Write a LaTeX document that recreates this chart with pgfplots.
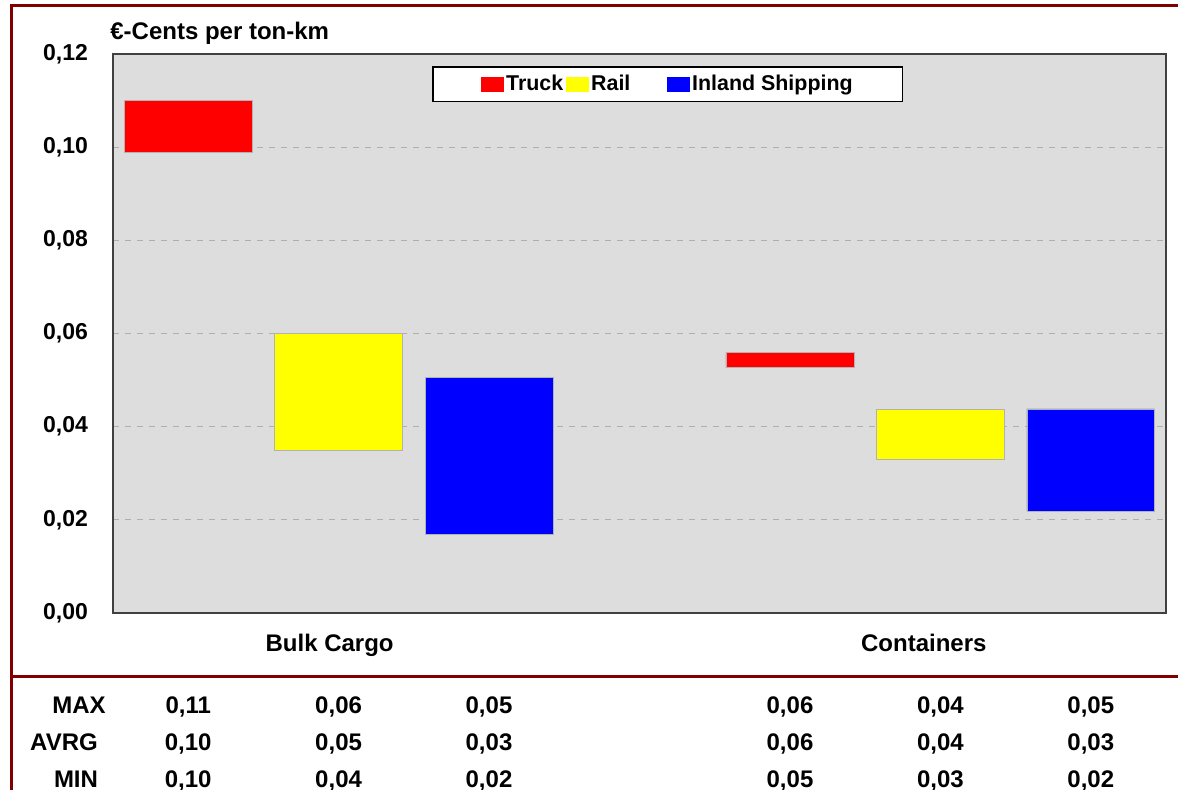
\documentclass[border=0pt]{standalone}
\usepackage{fontspec}
\setmainfont{Liberation Sans}
\usepackage{pgfplots}
\pgfplotsset{compat=1.18}
\usepackage{pgfplotstable}
\definecolor{plotbg}{RGB}{221,221,221}
\definecolor{framered}{RGB}{128,0,0}
\definecolor{gridc}{RGB}{175,175,175}
\definecolor{truckc}{RGB}{255,0,0}
\definecolor{railc}{RGB}{255,255,0}
\definecolor{shipc}{RGB}{0,0,255}

% x position, min, max, series (1 truck, 2 rail, 3 inland shipping)
\pgfplotstableread{
x lo hi s
0 0.0990 0.1100 1
1 0.0350 0.0601 2
2 0.0170 0.0506 3
4 0.0527 0.0559 1
5 0.0330 0.0438 2
6 0.0219 0.0438 3
}\bars

\newcommand{\tf}{\fontsize{12}{14}\selectfont\bfseries}
\newcommand{\lf}{\fontsize{10.7}{12}\selectfont\bfseries}
\begin{document}
\begin{tikzpicture}
\path[use as bounding box] (-56.5pt,-88pt) rectangle (532.5pt,306.5pt);
\begin{axis}[
  at={(0,0)}, anchor=south west,
  scale only axis, width=526.5pt, height=279.5pt,
  xmin=-0.5, xmax=6.5, ymin=0, ymax=0.12,
  ybar stacked, bar width=0.85,
  axis background/.style={fill=plotbg},
  axis line style={black!75, line width=0.8pt},
  ytick={0,0.02,0.04,0.06,0.08,0.1,0.12},
  yticklabels={{0,00},{0,02},{0,04},{0,06},{0,08},{0,10},{0,12}},
  ymajorgrids, grid style={gridc, dashed, line width=0.4pt},
  xtick={0.94,4.89}, xticklabels={Bulk Cargo,Containers},
  major tick length=0pt,
  xticklabel style={font=\tf, anchor=base, yshift=-19pt},
  yticklabel style={xshift=-9pt, font=\fontsize{11.5}{13}\selectfont\bfseries},
  legend columns=3,
  legend style={at={(0.527,0.946)}, anchor=center, draw=black, line width=0.8pt,
    fill=white, font=\lf, inner xsep=24pt, inner ysep=3pt,
    nodes={inner sep=1pt}},
  legend image code/.code={\fill[#1,draw=none] (0pt,-3.75pt) rectangle (11.5pt,3.75pt);},
  clip=false,
]
\addplot[draw=none, fill=none, forget plot] table[x=x, y=lo]{\bars};
\addplot[fill=truckc, draw=black!30, line width=0.3pt] table[x=x, y expr={\thisrow{s}==1 ? \thisrow{hi}-\thisrow{lo} : 0}]{\bars};
\addlegendentry{\makebox[29pt][l]{Truck}}
\addplot[fill=railc, draw=black!30, line width=0.3pt] table[x=x, y expr={\thisrow{s}==2 ? \thisrow{hi}-\thisrow{lo} : 0}]{\bars};
\addlegendentry{\makebox[37pt][l]{Rail}}
\addplot[fill=shipc, draw=black!30, line width=0.3pt] table[x=x, y expr={\thisrow{s}==3 ? \thisrow{hi}-\thisrow{lo} : 0}]{\bars};
\addlegendentry{Inland Shipping}
\end{axis}
\node[anchor=base west, font=\tf, inner sep=0pt] at (-1.5pt,287pt) {€-Cents per ton-km};
% frame
\draw[framered, line width=1.5pt] (-50.5pt,-90pt) -- (-50.5pt,304pt) -- (534pt,304pt);
\draw[framered, line width=1.5pt] (-51.5pt,-31.5pt) -- (534pt,-31.5pt);
% table below
\begin{scope}[every node/.style={anchor=base, font=\tf, inner sep=0pt}]
\node at (-17pt,-50pt) {MAX};
\node at (-24.5pt,-68.5pt) {AVRG};
\node at (-18.5pt,-87pt) {MIN};
\node at (37.6pt,-50pt) {0,11};  \node at (37.6pt,-68.5pt) {0,10};  \node at (37.6pt,-87pt) {0,10};
\node at (112.8pt,-50pt) {0,06}; \node at (112.8pt,-68.5pt) {0,05}; \node at (112.8pt,-87pt) {0,04};
\node at (188.0pt,-50pt) {0,05}; \node at (188.0pt,-68.5pt) {0,03}; \node at (188.0pt,-87pt) {0,02};
\node at (338.5pt,-50pt) {0,06}; \node at (338.5pt,-68.5pt) {0,06}; \node at (338.5pt,-87pt) {0,05};
\node at (413.7pt,-50pt) {0,04}; \node at (413.7pt,-68.5pt) {0,04}; \node at (413.7pt,-87pt) {0,03};
\node at (488.9pt,-50pt) {0,05}; \node at (488.9pt,-68.5pt) {0,03}; \node at (488.9pt,-87pt) {0,02};
\end{scope}
\end{tikzpicture}
\end{document}
